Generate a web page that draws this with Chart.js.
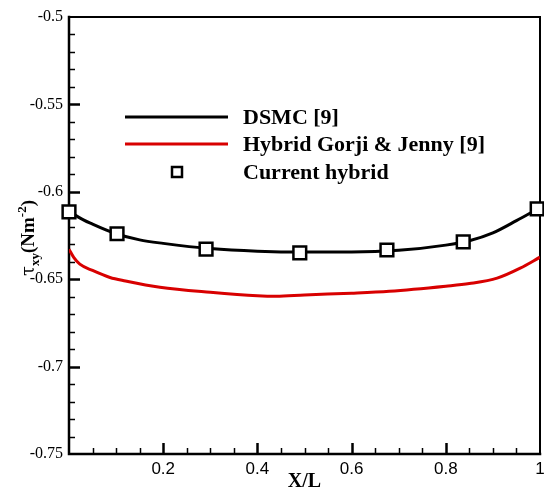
<!DOCTYPE html>
<html>
<head>
<meta charset="utf-8">
<script src="https://cdn.jsdelivr.net/npm/chart.js@4/dist/chart.umd.min.js"></script>
<style>
  html, body { margin: 0; padding: 0; background: #fff; }
</style>
</head>
<body>
<canvas id="shear-chart" width="544" height="492"></canvas>
<script>
// wall shear stress along the plate, tau_xy vs X/L
const dsmcX = [0, 0.02, 0.05, 0.1, 0.15, 0.2, 0.3, 0.4, 0.5, 0.6, 0.7, 0.8, 0.85, 0.9, 0.95, 1.0];
const dsmcY = [-0.6105, -0.6145, -0.6185, -0.6240, -0.6275, -0.6295, -0.6325, -0.6340, -0.6345, -0.6345, -0.6335, -0.6305, -0.6280, -0.6235, -0.6165, -0.6090];

const gorjiX = [0, 0.01, 0.023, 0.05, 0.087, 0.12, 0.193, 0.3, 0.4, 0.44, 0.5, 0.6, 0.68, 0.8, 0.85, 0.909, 0.958, 1.0];
const gorjiY = [-0.6328, -0.6375, -0.6414, -0.6450, -0.6490, -0.6510, -0.6546, -0.6575, -0.6595, -0.6598, -0.6590, -0.6580, -0.6569, -0.6540, -0.6525, -0.6494, -0.6437, -0.6374];

const hybridX = [0.0, 0.102, 0.291, 0.49, 0.675, 0.837, 0.994];
const hybridY = [-0.6115, -0.6240, -0.6328, -0.6350, -0.6333, -0.6287, -0.6098];

const xTickStep = 0.2, xMinorStep = 0.05;
const yTickStep = 0.05, yMinorStep = 0.01;

const SERIF = "'Liberation Serif', 'Times New Roman', serif";
const SANS = "'Liberation Sans', Arial, sans-serif";
const RED = '#d80000';

const pts = (xs, ys) => xs.map((x, i) => ({ x, y: ys[i] }));

// axis frame + inward major/minor ticks (left and bottom only)
const framePlugin = {
  id: 'frame',
  beforeDatasetsDraw(chart) {
    const { ctx, chartArea: a, scales: { x, y } } = chart;
    ctx.save();
    ctx.strokeStyle = '#000';
    ctx.lineCap = 'square';
    ctx.lineWidth = 2;
    ctx.beginPath();
    ctx.moveTo(a.left, a.top); ctx.lineTo(a.right, a.top); ctx.lineTo(a.right, a.bottom);
    ctx.stroke();
    ctx.lineWidth = 2.5;
    ctx.beginPath();
    ctx.moveTo(a.left, a.top); ctx.lineTo(a.left, a.bottom); ctx.lineTo(a.right, a.bottom);
    ctx.stroke();

    ctx.lineCap = 'butt';
    const nY = Math.round((y.max - y.min) / yMinorStep);
    for (let i = 1; i < nY; i++) {
      const v = y.min + i * yMinorStep;
      const major = i % Math.round(yTickStep / yMinorStep) === 0;
      const py = Math.round(y.getPixelForValue(v)) + 0.5;
      ctx.lineWidth = major ? 2.5 : 1.5;
      ctx.beginPath();
      ctx.moveTo(a.left, py); ctx.lineTo(a.left + (major ? 11 : 6), py);
      ctx.stroke();
    }
    const nX = Math.round((x.max - x.min) / xMinorStep);
    for (let i = 1; i < nX; i++) {
      const v = x.min + i * xMinorStep;
      const major = i % Math.round(xTickStep / xMinorStep) === 0;
      const px = Math.round(x.getPixelForValue(v)) + 0.5;
      ctx.lineWidth = major ? 2.5 : 1.5;
      ctx.beginPath();
      ctx.moveTo(px, a.bottom); ctx.lineTo(px, a.bottom - (major ? 11 : 6));
      ctx.stroke();
    }
    ctx.restore();
  }
};

// rotated y title with sub/superscripts
const yTitlePlugin = {
  id: 'yTitle',
  afterDraw(chart) {
    const { ctx } = chart;
    const parts = [
      { t: '\u03C4', font: `18px 'DejaVu Serif', serif`, dy: 0 },
      { t: 'xy', font: `bold 13px ${SERIF}`, dy: 5 },
      { t: '(Nm', font: `bold 19px ${SERIF}`, dy: 0 },
      { t: '-2', font: `bold 13px ${SERIF}`, dy: -8 },
      { t: ')', font: `bold 19px ${SERIF}`, dy: 0 }
    ];
    ctx.save();
    let total = 0;
    parts.forEach(p => { ctx.font = p.font; p.w = ctx.measureText(p.t).width; total += p.w; });
    ctx.translate(27, 238);
    ctx.rotate(-Math.PI / 2);
    ctx.fillStyle = '#000';
    ctx.textBaseline = 'alphabetic';
    let cx = -total / 2;
    parts.forEach(p => {
      ctx.font = p.font;
      ctx.fillText(p.t, cx, 7 + p.dy);
      cx += p.w;
    });
    ctx.restore();
  }
};

// legend placed inside the plot area
const legendPlugin = {
  id: 'innerLegend',
  afterDatasetsDraw(chart) {
    const { ctx } = chart;
    const rows = [
      { ds: chart.data.datasets[1], y: 117 },
      { ds: chart.data.datasets[2], y: 144 },
      { ds: chart.data.datasets[0], y: 172 }
    ];
    ctx.save();
    rows.forEach(r => {
      if (r.ds.showLine) {
        ctx.strokeStyle = r.ds.borderColor;
        ctx.lineWidth = r.ds.borderWidth;
        ctx.beginPath();
        ctx.moveTo(125, r.y); ctx.lineTo(228, r.y);
        ctx.stroke();
      } else {
        ctx.strokeStyle = r.ds.pointBorderColor;
        ctx.fillStyle = '#fff';
        ctx.lineWidth = r.ds.pointBorderWidth;
        ctx.beginPath();
        ctx.rect(172, r.y - 5, 10, 10);
        ctx.fill(); ctx.stroke();
      }
      ctx.fillStyle = '#000';
      ctx.font = `bold 22px ${SERIF}`;
      ctx.textBaseline = 'middle';
      ctx.fillText(r.ds.label, 243, r.y + 1);
    });
    ctx.restore();
  }
};

new Chart(document.getElementById('shear-chart'), {
  type: 'scatter',
  data: {
    datasets: [
      {
        label: 'Current hybrid',
        data: pts(hybridX, hybridY),
        showLine: false,
        pointStyle: 'rect',
        pointRadius: 9,
        pointBorderWidth: 2.5,
        pointBorderColor: '#000',
        pointBackgroundColor: '#fff',
        clip: false,
        order: 0
      },
      {
        label: 'DSMC [9]',
        data: pts(dsmcX, dsmcY),
        showLine: true,
        borderColor: '#000',
        borderWidth: 3,
        pointRadius: 0,
        cubicInterpolationMode: 'monotone',
        order: 1
      },
      {
        label: 'Hybrid Gorji & Jenny [9]',
        data: pts(gorjiX, gorjiY),
        showLine: true,
        borderColor: RED,
        borderWidth: 3,
        pointRadius: 0,
        cubicInterpolationMode: 'monotone',
        order: 2
      }
    ]
  },
  options: {
    responsive: false,
    animation: false,
    events: [],
    layout: { autoPadding: false, padding: { top: 17, right: 4, left: 0, bottom: 0 } },
    plugins: { legend: { display: false }, tooltip: { enabled: false } },
    scales: {
      x: {
        type: 'linear',
        min: 0,
        max: 1,
        border: { display: false },
        grid: { display: false, drawTicks: false },
        ticks: {
          stepSize: xTickStep,
          padding: 5,
          color: '#000',
          font: { family: SANS, size: 17 },
          maxRotation: 0,
          callback: v => (v === 0 ? '' : String(Number(v.toFixed(1))))
        },
        title: {
          display: true,
          text: 'X/L',
          color: '#000',
          font: { family: SERIF, size: 20, weight: 'bold' },
          padding: { top: 0, bottom: -2 }
        },
        afterFit: s => { s.height = 38; s.paddingLeft = 0; s.paddingRight = 0; }
      },
      y: {
        type: 'linear',
        min: -0.75,
        max: -0.5,
        border: { display: false },
        grid: { display: false, drawTicks: false },
        ticks: {
          stepSize: yTickStep,
          padding: 6,
          color: '#000',
          font: { family: SERIF, size: 16 },
          callback: v => String(Number(v.toFixed(2)))
        },
        afterFit: s => { s.width = 69; }
      }
    }
  },
  plugins: [framePlugin, legendPlugin, yTitlePlugin]
});
</script>
</body>
</html>
